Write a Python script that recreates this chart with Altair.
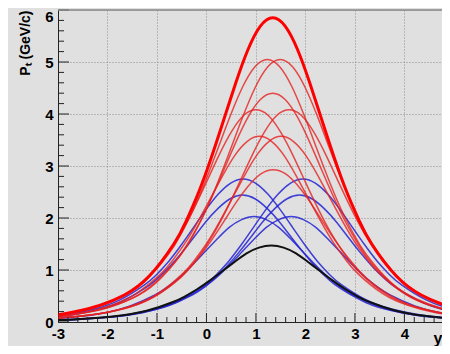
import altair as alt
import pandas as pd

# ---- axis ticks ----
X_TICKS = [-3, -2, -1, 0, 1, 2, 3, 4]
Y_TICKS = [0, 1, 2, 3, 4, 5, 6]
X_MINOR = [round(-3 + 0.2 * i, 2) for i in range(40) if i % 5 != 0]
Y_MINOR = [round(0.2 * i, 2) for i in range(30) if i % 5 != 0]

# ---- curve values ----
Y_585 = [0.08, 0.12, 0.20, 0.32, 0.52, 0.88, 1.50, 1.94, 2.49, 3.14, 3.86, 4.59, 5.24, 5.69, 5.85, 5.69, 5.24, 4.59, 3.86, 3.14, 2.49, 1.94, 1.50, 0.88, 0.52, 0.32, 0.20, 0.12]
Y_505 = [0.07, 0.11, 0.17, 0.27, 0.45, 0.76, 1.30, 1.68, 2.15, 2.71, 3.33, 3.96, 4.52, 4.91, 5.05, 4.91, 4.52, 3.96, 3.33, 2.71, 2.15, 1.68, 1.30, 0.76, 0.45, 0.27, 0.17, 0.11]
Y_440 = [0.06, 0.09, 0.15, 0.24, 0.39, 0.66, 1.13, 1.46, 1.87, 2.36, 2.90, 3.45, 3.94, 4.28, 4.40, 4.28, 3.94, 3.45, 2.90, 2.36, 1.87, 1.46, 1.13, 0.66, 0.39, 0.24, 0.15, 0.09]
Y_408 = [0.06, 0.09, 0.14, 0.22, 0.36, 0.62, 1.05, 1.36, 1.74, 2.19, 2.69, 3.20, 3.65, 3.97, 4.08, 3.97, 3.65, 3.20, 2.69, 2.19, 1.74, 1.36, 1.05, 0.62, 0.36, 0.22, 0.14, 0.09]
Y_357 = [0.05, 0.08, 0.12, 0.19, 0.32, 0.54, 0.92, 1.19, 1.52, 1.92, 2.36, 2.80, 3.20, 3.47, 3.57, 3.47, 3.20, 2.80, 2.36, 1.92, 1.52, 1.19, 0.92, 0.54, 0.32, 0.19, 0.12, 0.08]
Y_293 = [0.04, 0.06, 0.10, 0.16, 0.26, 0.44, 0.75, 0.97, 1.25, 1.57, 1.93, 2.30, 2.62, 2.85, 2.93, 2.85, 2.62, 2.30, 1.93, 1.57, 1.25, 0.97, 0.75, 0.44, 0.26, 0.16, 0.10, 0.06]
Y_275 = [0.04, 0.06, 0.09, 0.15, 0.25, 0.42, 0.71, 0.91, 1.17, 1.48, 1.82, 2.16, 2.46, 2.67, 2.75, 2.67, 2.46, 2.16, 1.82, 1.48, 1.17, 0.91, 0.71, 0.42, 0.25, 0.15, 0.09, 0.06]
Y_244 = [0.03, 0.05, 0.08, 0.13, 0.22, 0.37, 0.63, 0.81, 1.04, 1.31, 1.61, 1.92, 2.18, 2.37, 2.44, 2.37, 2.18, 1.92, 1.61, 1.31, 1.04, 0.81, 0.63, 0.37, 0.22, 0.13, 0.08, 0.05]
Y_203 = [0.03, 0.04, 0.07, 0.11, 0.18, 0.31, 0.52, 0.67, 0.86, 1.09, 1.34, 1.59, 1.82, 1.97, 2.03, 1.97, 1.82, 1.59, 1.34, 1.09, 0.86, 0.67, 0.52, 0.31, 0.18, 0.11, 0.07, 0.04]
Y_147 = [0.02, 0.03, 0.05, 0.08, 0.13, 0.22, 0.38, 0.49, 0.63, 0.79, 0.97, 1.15, 1.32, 1.43, 1.47, 1.43, 1.32, 1.15, 0.97, 0.79, 0.63, 0.49, 0.38, 0.22, 0.13, 0.08, 0.05, 0.03]

X_134 = [-3.66, -3.16, -2.66, -2.16, -1.66, -1.16, -0.66, -0.41, -0.16, 0.09, 0.34, 0.59, 0.84, 1.09, 1.34, 1.59, 1.84, 2.09, 2.34, 2.59, 2.84, 3.09, 3.34, 3.84, 4.34, 4.84, 5.34, 5.84]
X_123 = [-3.77, -3.27, -2.77, -2.27, -1.77, -1.27, -0.77, -0.52, -0.27, -0.02, 0.23, 0.48, 0.73, 0.98, 1.23, 1.48, 1.73, 1.98, 2.23, 2.48, 2.73, 2.98, 3.23, 3.73, 4.23, 4.73, 5.23, 5.73]
X_149 = [-3.51, -3.01, -2.51, -2.01, -1.51, -1.01, -0.51, -0.26, -0.01, 0.24, 0.49, 0.74, 0.99, 1.24, 1.49, 1.74, 1.99, 2.24, 2.49, 2.74, 2.99, 3.24, 3.49, 3.99, 4.49, 4.99, 5.49, 5.99]
X_100 = [-4.0, -3.5, -3.0, -2.5, -2.0, -1.5, -1.0, -0.75, -0.5, -0.25, 0.0, 0.25, 0.5, 0.75, 1.0, 1.25, 1.5, 1.75, 2.0, 2.25, 2.5, 2.75, 3.0, 3.5, 4.0, 4.5, 5.0, 5.5]
X_167 = [-3.33, -2.83, -2.33, -1.83, -1.33, -0.83, -0.33, -0.08, 0.17, 0.42, 0.67, 0.92, 1.17, 1.42, 1.67, 1.92, 2.17, 2.42, 2.67, 2.92, 3.17, 3.42, 3.67, 4.17, 4.67, 5.17, 5.67, 6.17]
X_107 = [-3.93, -3.43, -2.93, -2.43, -1.93, -1.43, -0.93, -0.68, -0.43, -0.18, 0.07, 0.32, 0.57, 0.82, 1.07, 1.32, 1.57, 1.82, 2.07, 2.32, 2.57, 2.82, 3.07, 3.57, 4.07, 4.57, 5.07, 5.57]
X_151 = [-3.49, -2.99, -2.49, -1.99, -1.49, -0.99, -0.49, -0.24, 0.01, 0.26, 0.51, 0.76, 1.01, 1.26, 1.51, 1.76, 2.01, 2.26, 2.51, 2.76, 3.01, 3.26, 3.51, 4.01, 4.51, 5.01, 5.51, 6.01]
X_135 = [-3.65, -3.15, -2.65, -2.15, -1.65, -1.15, -0.65, -0.4, -0.15, 0.1, 0.35, 0.6, 0.85, 1.1, 1.35, 1.6, 1.85, 2.1, 2.35, 2.6, 2.85, 3.1, 3.35, 3.85, 4.35, 4.85, 5.35, 5.85]
X_074 = [-4.26, -3.76, -3.26, -2.76, -2.26, -1.76, -1.26, -1.01, -0.76, -0.51, -0.26, -0.01, 0.24, 0.49, 0.74, 0.99, 1.24, 1.49, 1.74, 1.99, 2.24, 2.49, 2.74, 3.24, 3.74, 4.24, 4.74, 5.24]
X_195 = [-3.05, -2.55, -2.05, -1.55, -1.05, -0.55, -0.05, 0.2, 0.45, 0.7, 0.95, 1.2, 1.45, 1.7, 1.95, 2.2, 2.45, 2.7, 2.95, 3.2, 3.45, 3.7, 3.95, 4.45, 4.95, 5.45, 5.95, 6.45]
X_073 = [-4.27, -3.77, -3.27, -2.77, -2.27, -1.77, -1.27, -1.02, -0.77, -0.52, -0.27, -0.02, 0.23, 0.48, 0.73, 0.98, 1.23, 1.48, 1.73, 1.98, 2.23, 2.48, 2.73, 3.23, 3.73, 4.23, 4.73, 5.23]
X_188 = [-3.12, -2.62, -2.12, -1.62, -1.12, -0.62, -0.12, 0.13, 0.38, 0.63, 0.88, 1.13, 1.38, 1.63, 1.88, 2.13, 2.38, 2.63, 2.88, 3.13, 3.38, 3.63, 3.88, 4.38, 4.88, 5.38, 5.88, 6.38]
X_096 = [-4.04, -3.54, -3.04, -2.54, -2.04, -1.54, -1.04, -0.79, -0.54, -0.29, -0.04, 0.21, 0.46, 0.71, 0.96, 1.21, 1.46, 1.71, 1.96, 2.21, 2.46, 2.71, 2.96, 3.46, 3.96, 4.46, 4.96, 5.46]
X_171 = [-3.29, -2.79, -2.29, -1.79, -1.29, -0.79, -0.29, -0.04, 0.21, 0.46, 0.71, 0.96, 1.21, 1.46, 1.71, 1.96, 2.21, 2.46, 2.71, 2.96, 3.21, 3.46, 3.71, 4.21, 4.71, 5.21, 5.71, 6.21]
X_131 = [-3.69, -3.19, -2.69, -2.19, -1.69, -1.19, -0.69, -0.44, -0.19, 0.06, 0.31, 0.56, 0.81, 1.06, 1.31, 1.56, 1.81, 2.06, 2.31, 2.56, 2.81, 3.06, 3.31, 3.81, 4.31, 4.81, 5.31, 5.81]

CURVES = [
    ("red_main", "thick", X_134, Y_585),
    ("red_a1", "red", X_123, Y_505),
    ("red_a2", "red", X_149, Y_505),
    ("red_b", "red", X_134, Y_440),
    ("red_c1", "red", X_100, Y_408),
    ("red_c2", "red", X_167, Y_408),
    ("red_d1", "red", X_107, Y_357),
    ("red_d2", "red", X_151, Y_357),
    ("red_e", "red", X_135, Y_293),
    ("blue_a1", "blue", X_074, Y_275),
    ("blue_a2", "blue", X_195, Y_275),
    ("blue_b1", "blue", X_073, Y_244),
    ("blue_b2", "blue", X_188, Y_244),
    ("blue_c1", "blue", X_096, Y_203),
    ("blue_c2", "blue", X_171, Y_203),
    ("black", "black", X_131, Y_147),
]

rows = []
for name, group, xs_, ys_ in CURVES:
    for xv, yv in zip(xs_, ys_):
        rows.append({"curve": name, "group": group, "x": xv, "y": yv})
df = pd.DataFrame(rows)

W, H = 384, 312
FONT = "Liberation Sans"
xsc = alt.Scale(domain=[-3, 4.76], nice=False, zero=False)
ysc = alt.Scale(domain=[0, 6], nice=False, zero=False)

x_axis = alt.Axis(
    values=X_TICKS, grid=True, gridDash=[1, 2], gridColor="#8c8c8c", gridWidth=1,
    ticks=False, domainColor="#222222", domainWidth=1,
    labelFont=FONT, labelFontWeight="bold", labelFontSize=15, labelColor="black",
    labelPadding=4, labelExpr="'' + datum.value", labelFlush=False, labelOverlap=False,
    title="y", titleFont=FONT, titleFontWeight="bold", titleFontSize=16, titleColor="black",
    titleAlign="left", titleBaseline="alphabetic", titleX=375, titleY=21, titleAnchor="start",
)
y_axis = alt.Axis(
    values=Y_TICKS, grid=True, gridDash=[1, 2], gridColor="#8c8c8c", gridWidth=1,
    ticks=False, domainColor="#222222", domainWidth=1,
    labelFont=FONT, labelFontWeight="bold", labelFontSize=15, labelColor="black",
    labelPadding=5, labelExpr="'' + datum.value", labelFlush=False, labelOverlap=False,
    labelOffset={"condition": {"test": "datum.value == 6", "value": 6}, "value": 0},
    title="Pₜ (GeV/c)", titleFont=FONT, titleFontWeight="bold", titleFontSize=14, titleColor="black",
    titleAngle=270, titleAlign="right", titleBaseline="middle", titleX=-33, titleY=0,
)

XE = alt.X("x:Q", scale=xsc, axis=x_axis)
YE = alt.Y("y:Q", scale=ysc, axis=y_axis)


def line_layer(group, color, width, opacity):
    return alt.Chart(df[df.group == group]).mark_line(
        color=color, strokeWidth=width, opacity=opacity, clip=True, interpolate="natural"
    ).encode(x=XE, y=YE, detail="curve:N")


blue = line_layer("blue", "#2222d4", 1.5, 0.85)
black = line_layer("black", "#111111", 2.0, 1.0)
red = line_layer("red", "#e62020", 1.5, 0.8)
thick = line_layer("thick", "#ff0000", 3.0, 1.0)

tick_col = "#222222"
y_major = alt.Chart(pd.DataFrame({"y": Y_TICKS})).mark_rule(color=tick_col, strokeWidth=1).encode(
    y=YE, x=alt.value(0), x2=alt.value(11))
y_minor = alt.Chart(pd.DataFrame({"y": Y_MINOR})).mark_rule(color=tick_col, strokeWidth=1).encode(
    y=YE, x=alt.value(0), x2=alt.value(6))
x_major = alt.Chart(pd.DataFrame({"x": X_TICKS})).mark_rule(color=tick_col, strokeWidth=1, clip=True).encode(
    x=XE, y=alt.value(H), y2=alt.value(H - 9))
x_minor = alt.Chart(pd.DataFrame({"x": X_MINOR})).mark_rule(color=tick_col, strokeWidth=1, clip=True).encode(
    x=XE, y=alt.value(H), y2=alt.value(H - 5))
top_frame = alt.Chart(pd.DataFrame({"y": [6]})).mark_rule(color="#8a8a8a", strokeWidth=1.5).encode(
    y=YE, x=alt.value(0), x2=alt.value(W))

chart = alt.layer(
    blue, black, red, thick, y_major, y_minor, x_major, x_minor, top_frame
).properties(
    width=W, height=H,
    autosize=alt.AutoSizeParams(type="none"),
    padding={"left": 50, "top": 2, "right": 0, "bottom": 24},
    background="#e0e0e0",
).configure_view(stroke="transparent")

chart.save("out.html", embed_options={"renderer": "svg", "actions": False})
